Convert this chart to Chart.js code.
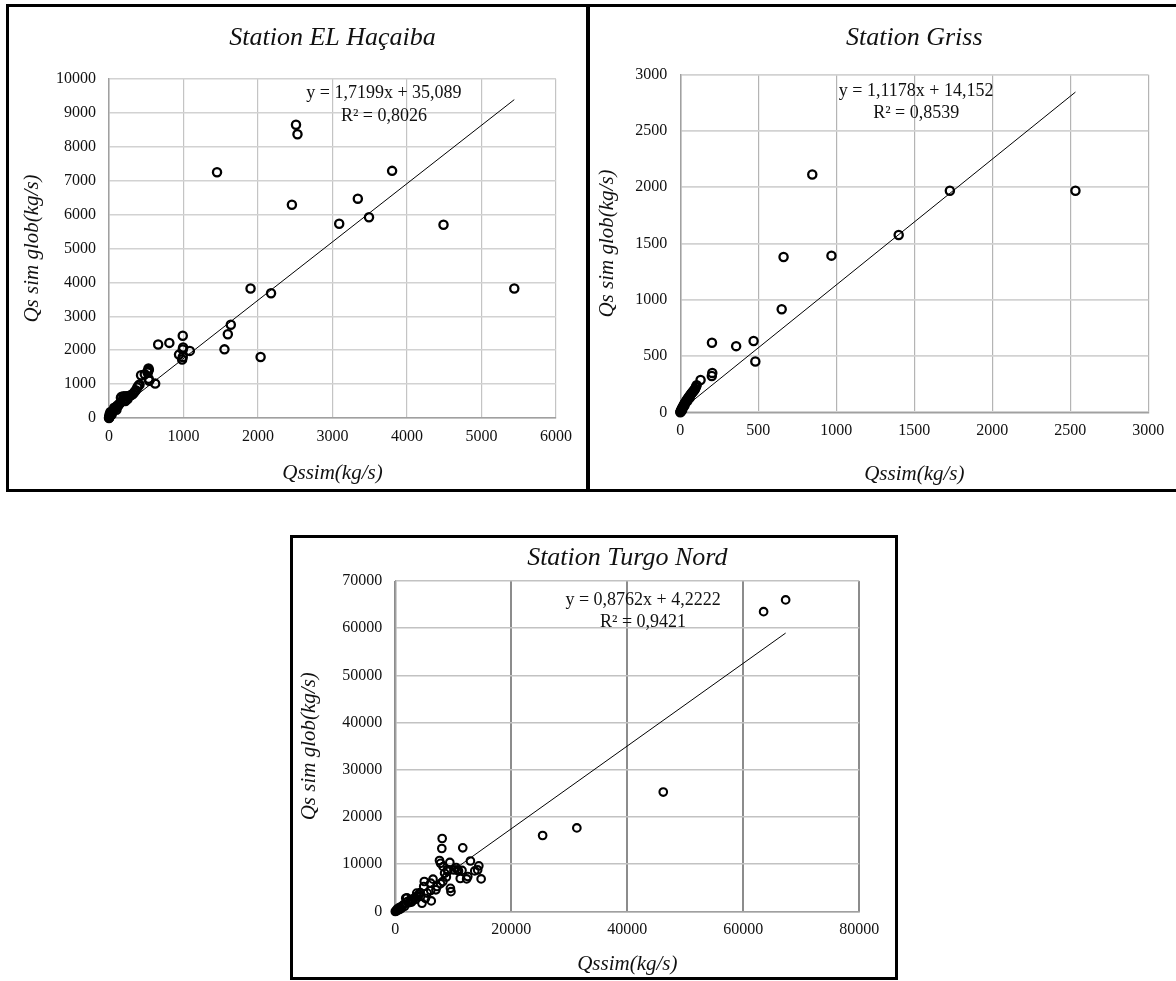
<!DOCTYPE html>
<html>
<head>
<meta charset="utf-8">
<script src="https://cdn.jsdelivr.net/npm/chart.js@4/dist/chart.umd.min.js"></script>
<style>
  html, body { margin: 0; padding: 0; background: #fff; }
  body { width: 1176px; height: 981px; position: relative; overflow: hidden; }
  .panel { position: absolute; box-sizing: border-box; border: 3px solid #000; }
  canvas { position: absolute; }
</style>
</head>
<body>
<div class="panel" style="left:6px;top:4px;width:584px;height:488px;"></div>
<div class="panel" style="left:586px;top:4px;width:600px;height:488px;"></div>
<div class="panel" style="left:290px;top:535px;width:608px;height:445px;"></div>
<canvas id="c1" width="578" height="482" style="left:9px;top:7px;"></canvas>
<canvas id="c2" width="587" height="482" style="left:589px;top:7px;"></canvas>
<canvas id="c3" width="602" height="439" style="left:293px;top:538px;"></canvas>
<script>
// ---- Station EL Haçaiba ----
const hacaibaX = [2510, 2530, 1450, 3800, 2455, 3340, 3090, 3490, 4490, 5440, 1900, 2175, 1635, 1595, 1550, 2035,
  990, 995, 990, 1085, 940, 982, 990, 810, 660, 620, 530, 525, 520, 532, 540, 430, 480, 410, 395, 380, 360, 340,
  320, 300, 280, 260, 230, 200, 170, 160, 200, 180, 150, 130, 110, 95, 80, 65, 50, 40, 30, 20, 12, 6, 2, 0, 10, 20,
  5, 70, 120, 250, 220, 100, 35, 535, 518];
const hacaibaY = [8650, 8370, 7250, 7290, 6290, 6470, 5730, 5920, 5700, 3820, 3820, 3680, 2750, 2470, 2025, 1800,
  2425, 2080, 2020, 1980, 1870, 1725, 1800, 2215, 2170, 1015, 1460, 1400, 1340, 1160, 1100, 1260, 1290, 990, 950, 900, 820, 760,
  710, 680, 660, 650, 645, 640, 630, 600, 540, 500, 440, 400, 360, 320, 280, 240, 200, 160, 120, 85, 55, 30, 10, 0, 120, 180,
  60, 300, 350, 560, 500, 240, 100, 1420, 1357];
const hacaibaFit = [1.7199, 35.089, 0.8026];   // slope, intercept, R²

// ---- Station Griss ----
const grissX = [846, 1728, 2533, 1400, 969, 662, 650, 203, 358, 470, 481, 205, 202, 130, 100, 95, 90, 85, 80, 75, 70,
  65, 60, 55, 50, 45, 40, 35, 30, 26, 22, 18, 14, 10, 7, 4, 2, 0, 20, 28, 45, 60, 12, 6, 105];
const grissY = [2113, 1969, 1969, 1576, 1392, 1380, 916, 618, 588, 634, 451, 350, 322, 287, 225, 210, 198, 190, 182, 172, 165,
  155, 146, 136, 126, 116, 105, 95, 84, 74, 63, 52, 42, 31, 22, 12, 5, 0, 48, 62, 100, 130, 20, 10, 240];
const grissFit = [1.1178, 14.152, 0.8539];

// ---- Station Turgo Nord ----
const turgoX = [67300, 63500, 46200, 31300, 25400, 8080, 8020, 11630, 7620, 7800, 9400, 12950, 14400, 14200, 13700, 14800,
  12500, 12300, 11200, 10700, 10900, 10100, 9050, 8500, 8250, 8800, 8200, 7800, 9500, 9600, 7200, 6500, 6100, 5000, 4900,
  6100, 6200, 4600, 4100, 4350, 3700, 5500, 5200, 3200, 2600, 2100, 1800, 2000, 1200, 600, 200, 0, 400, 800, 1500, 2400,
  3000, 3500, 2800, 1000, 300, 100, 700, 1600, 3800, 4300, 7000, 9000, 11500, 10500];
const turgoY = [66000, 63500, 25300, 17700, 16100, 15460, 13340, 13480, 10800, 10200, 10400, 10700, 9670, 8800, 8600, 6900,
  7400, 6900, 7000, 8800, 8600, 8800, 8500, 8100, 9500, 7300, 6350, 5900, 4900, 4200, 5300, 6850, 6000, 6350, 5300,
  4450, 2250, 1750, 3650, 3200, 3900, 3900, 2800, 2800, 2500, 2100, 2800, 2900, 1200, 700, 200, 0, 300, 900, 1500, 1900,
  2300, 2600, 2000, 600, 500, 50, 400, 1100, 3300, 4000, 4600, 8900, 8700, 9300];
const turgoFit = [0.8762, 4.2222, 0.9421];

// Axis ranges and tick steps
const hacaibaXTicks = [0, 6000, 1000], hacaibaYTicks = [0, 10000, 1000];
const grissXTicks = [0, 3000, 500], grissYTicks = [0, 3000, 500];
const turgoXTicks = [0, 80000, 20000], turgoYTicks = [0, 70000, 10000];

const SERIF = "'Liberation Serif', 'Times New Roman', serif";
const comma = v => String(v).replace('.', ',');

// Writes the regression equation and R² inside the plot area
const trendLabel = {
  id: 'trendLabel',
  afterDatasetsDraw(chart, args, opts) {
    const a = chart.chartArea, ctx = chart.ctx;
    ctx.save();
    ctx.font = '18px ' + SERIF;
    ctx.fillStyle = '#111';
    ctx.textAlign = 'center';
    ctx.textBaseline = 'middle';
    opts.lines.forEach((t, i) => {
      ctx.fillText(t, a.left + opts.fx * (a.right - a.left), a.top + opts.fy[i] * (a.bottom - a.top));
    });
    ctx.restore();
  }
};

function build(id, title, xs, ys, fit, xT, yT, lay) {
  const pts = xs.map((x, i) => ({ x: x, y: ys[i] }));
  const x0 = Math.min(...xs), x1 = Math.max(...xs);
  const line = [x0, x1].map(x => ({ x: x, y: fit[0] * x + fit[1] }));
  const lines = ['y = ' + comma(fit[0]) + 'x + ' + comma(fit[1]), 'R² = ' + comma(fit[2])];
  new Chart(document.getElementById(id), {
    type: 'scatter',
    data: {
      datasets: [
        { data: pts, pointStyle: 'circle', pointRadius: lay.r, pointBorderWidth: lay.bw,
          borderColor: '#000', backgroundColor: 'rgba(0,0,0,0)', clip: false, order: 2 },
        { data: line, showLine: true, pointRadius: 0, borderColor: '#000', borderWidth: 1, order: 1 }
      ]
    },
    plugins: [trendLabel],
    options: {
      responsive: false,
      animation: false,
      events: [],
      layout: { padding: { left: 0, top: 0, right: lay.padRight, bottom: 0 } },
      plugins: {
        legend: { display: false },
        tooltip: { enabled: false },
        title: {
          display: true, text: title, fullSize: false, color: '#111',
          font: { family: SERIF, size: 26, style: 'italic', weight: 'normal', lineHeight: 1.2 },
          padding: { top: lay.titleTop, bottom: lay.titleBottom }
        },
        trendLabel: { lines: lines, fx: lay.fx, fy: lay.fy }
      },
      scales: {
        x: {
          type: 'linear', min: xT[0], max: xT[1],
          afterFit: s => { s.height = lay.xH; },
          ticks: { stepSize: xT[2], padding: 9, color: '#111', font: { family: SERIF, size: 16 },
            maxRotation: 0, callback: v => String(v) },
          grid: { color: lay.xGrid, lineWidth: lay.xGridW, drawTicks: false },
          border: { color: '#a0a0a0', width: 1.5 },
          title: { display: true, text: 'Qssim(kg/s)', color: '#111',
            font: { family: SERIF, size: 21, style: 'italic', lineHeight: 1.2 },
            padding: { top: 0, bottom: lay.xTitleBottom } }
        },
        y: {
          type: 'linear', min: yT[0], max: yT[1],
          afterFit: s => { s.width = lay.yW; },
          ticks: { stepSize: yT[2], padding: 13, color: '#111', font: { family: SERIF, size: 16 },
            callback: v => String(v) },
          grid: { color: lay.yGrid, lineWidth: lay.yGridW, drawTicks: false },
          border: { color: '#a0a0a0', width: 1.5 },
          title: { display: true, text: 'Qs sim glob(kg/s)', color: '#111',
            font: { family: SERIF, size: 21, style: 'italic', lineHeight: 1.2 },
            padding: { top: lay.yTitleTop, bottom: 0 } }
        }
      }
    }
  });
}

build('c1', 'Station EL Haçaiba', hacaibaX, hacaibaY, hacaibaFit, hacaibaXTicks, hacaibaYTicks, {
  padRight: 31, xH: 71, yW: 100, titleTop: 15.4, titleBottom: 25.4, xTitleBottom: 3.4, yTitleTop: 10.4,
  xGrid: '#c4c4c4', xGridW: 1.2, yGrid: '#d2d2d2', yGridW: 1.5, r: 4.1, bw: 2.3, fx: 0.615, fy: [0.041, 0.109]
});
build('c2', 'Station Griss', grissX, grissY, grissFit, grissXTicks, grissYTicks, {
  padRight: 27.7, xH: 76.7, yW: 91.3, titleTop: 15.4, titleBottom: 21.1, xTitleBottom: 2.4, yTitleTop: 6,
  xGrid: '#b4b4b4', xGridW: 1.2, yGrid: '#d2d2d2', yGridW: 1.8, r: 4.1, bw: 2.3, fx: 0.504, fy: [0.048, 0.113]
});
build('c3', 'Station Turgo Nord', turgoX, turgoY, turgoFit, turgoXTicks, turgoYTicks, {
  padRight: 35.7, xH: 65.5, yW: 102.3, titleTop: 4.4, titleBottom: 7.4, xTitleBottom: 0, yTitleTop: 3.9,
  xGrid: '#8c8c8c', xGridW: 2, yGrid: '#c2c2c2', yGridW: 1.6, r: 3.8, bw: 2.1, fx: 0.534, fy: [0.057, 0.124]
});
</script>
</body>
</html>
